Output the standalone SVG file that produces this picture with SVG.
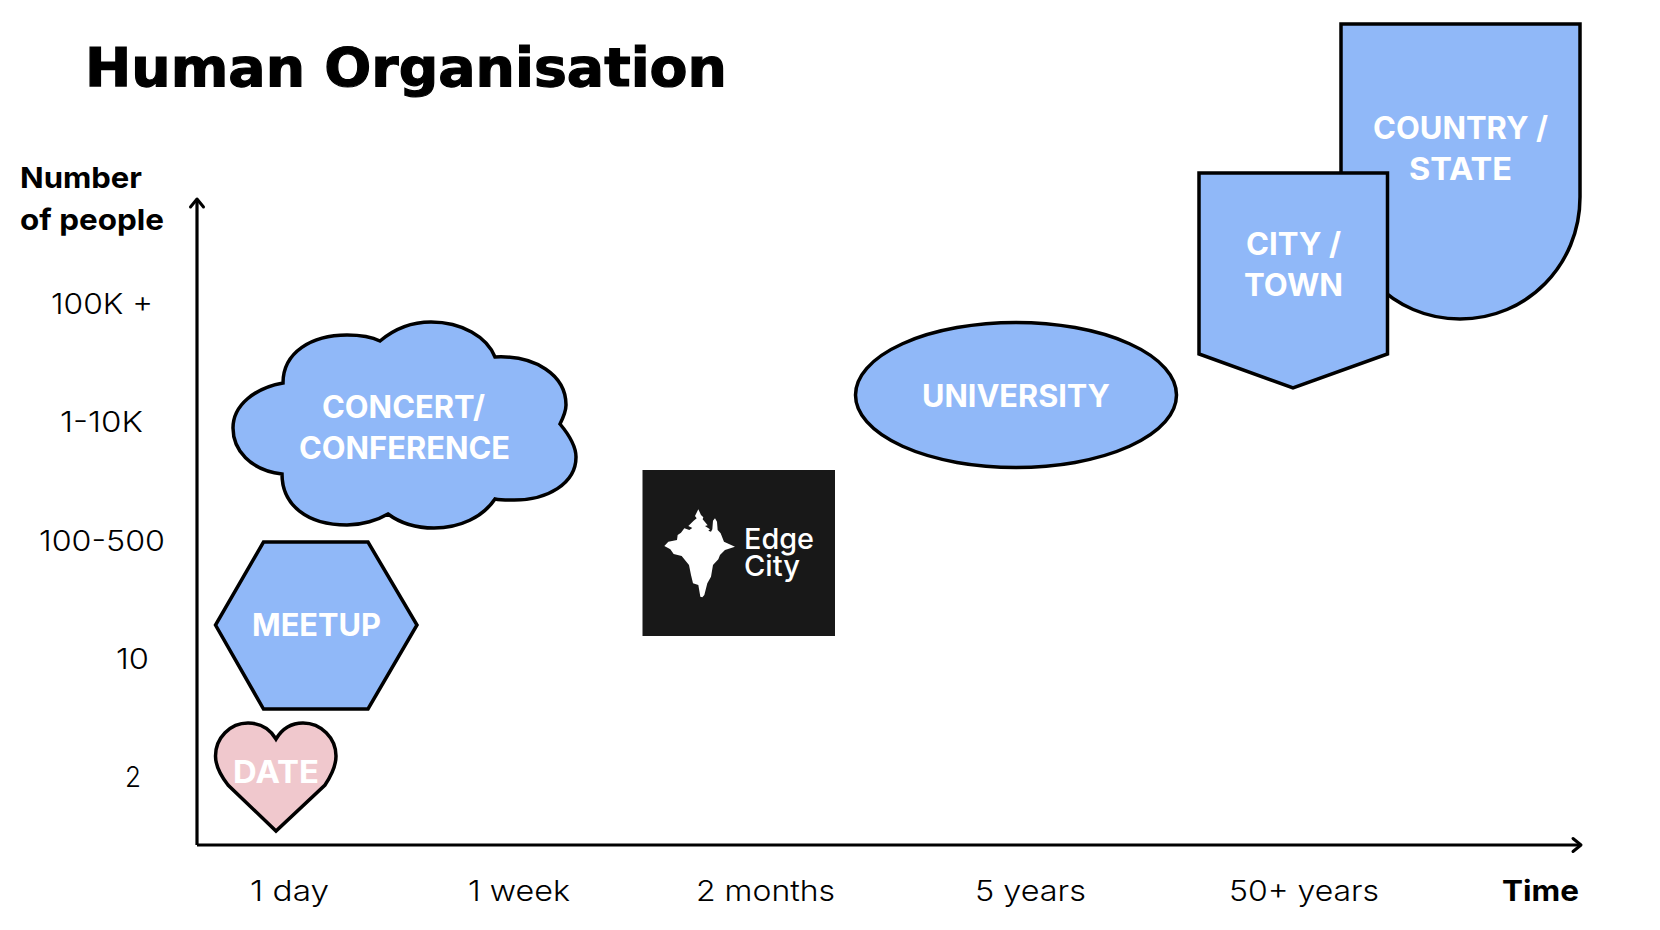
<svg xmlns="http://www.w3.org/2000/svg" width="1660" height="930" viewBox="0 0 1660 930">
<style>
text{font-family:Inter,"Liberation Sans",sans-serif;fill:#000}
.title{font-family:"DejaVu Sans",sans-serif;font-weight:700;font-size:54px;stroke:#000;stroke-width:1.2}
.tick{font-size:29px;font-weight:300}
.axis-title{font-size:29px;font-weight:700}
.label{font-size:31px;font-weight:700;fill:#fff}
.shape{fill:#90b8f8;stroke:#000;stroke-width:3.5;stroke-linejoin:miter}
.axis{fill:none;stroke:#000;stroke-width:3.2}
</style>
<defs>
<marker id="arrow" markerUnits="userSpaceOnUse" markerWidth="24" markerHeight="24" refX="14" refY="10" orient="auto">
<path d="M6 3.5L14 10L6 16.5" fill="none" stroke="#000" stroke-width="3" stroke-linecap="round" stroke-linejoin="round"/>
</marker>
</defs>
<rect width="1660" height="930" fill="#fff"/>
<text class="title" x="85" y="86" textLength="642" lengthAdjust="spacingAndGlyphs">Human Organisation</text>
<g id="connectors">
<path class="axis" d="M197 845V199" marker-end="url(#arrow)"/>
<path class="axis" d="M197 845H1581" marker-end="url(#arrow)"/>
</g>
<g id="y-labels">
<text class="axis-title" x="20" y="188" textLength="122" lengthAdjust="spacingAndGlyphs">Number</text>
<text class="axis-title" x="20" y="230" textLength="144" lengthAdjust="spacingAndGlyphs">of people</text>
<text class="tick" x="51" y="314" textLength="102" lengthAdjust="spacingAndGlyphs">100K +</text>
<text class="tick" x="60" y="432" textLength="83" lengthAdjust="spacingAndGlyphs">1-10K</text>
<text class="tick" x="39" y="551" textLength="126" lengthAdjust="spacingAndGlyphs">100-500</text>
<text class="tick" x="116" y="669" textLength="33" lengthAdjust="spacingAndGlyphs">10</text>
<text class="tick" x="125" y="787" textLength="16" lengthAdjust="spacingAndGlyphs">2</text>
</g>
<g id="x-labels">
<text class="tick" x="250" y="901" textLength="79" lengthAdjust="spacingAndGlyphs">1 day</text>
<text class="tick" x="468" y="901" textLength="102" lengthAdjust="spacingAndGlyphs">1 week</text>
<text class="tick" x="696" y="901" textLength="139" lengthAdjust="spacingAndGlyphs">2 months</text>
<text class="tick" x="975" y="901" textLength="111" lengthAdjust="spacingAndGlyphs">5 years</text>
<text class="tick" x="1229" y="901" textLength="150" lengthAdjust="spacingAndGlyphs">50+ years</text>
<text class="axis-title" x="1502" y="901" textLength="77" lengthAdjust="spacingAndGlyphs">Time</text>
</g>
<g id="node-country">
<path class="shape" d="M1341 24H1580V197C1580 265 1527 319 1460 319C1393 319 1341 265 1341 197Z"/>
<text class="label" x="1373" y="139" textLength="175" lengthAdjust="spacingAndGlyphs">COUNTRY /</text>
<text class="label" x="1409" y="180" textLength="103" lengthAdjust="spacingAndGlyphs">STATE</text>
</g>
<g id="node-city">
<path class="shape" d="M1199 173H1387.500V354L1293 388L1199 354Z"/>
<text class="label" x="1246" y="255" textLength="95" lengthAdjust="spacingAndGlyphs">CITY /</text>
<text class="label" x="1244" y="296" textLength="99" lengthAdjust="spacingAndGlyphs">TOWN</text>
</g>
<g id="node-university">
<ellipse class="shape" cx="1016" cy="395" rx="160.500" ry="72.500"/>
<text class="label" x="922" y="407" textLength="188" lengthAdjust="spacingAndGlyphs">UNIVERSITY</text>
</g>
<g id="node-edge-city">
<rect x="642.500" y="470" width="192.500" height="166" fill="#181818"/>
<polygon transform="translate(655 500) scale(.3333)" fill="#fff" points="130,28 138,45 145,52 143,58 158,76 150,78 165,88 160,92 168,95 172,88 174,62 180,55 186,65 188,90 197,100 207,125 240,140 210,150 195,165 190,178 174,195 168,230 157,250 148,285 142,292 136,290 130,255 114,250 108,225 102,195 80,168 56,162 46,148 28,138 40,125 66,120 68,105 78,98 88,85 103,90 112,84 100,78 116,62 125,55 120,48"/>
<text x="744" y="549" font-size="29" font-weight="500" style="fill:#fff" textLength="70" lengthAdjust="spacingAndGlyphs">Edge</text>
<text x="744" y="576" font-size="29" font-weight="500" style="fill:#fff" textLength="56" lengthAdjust="spacingAndGlyphs">City</text>
</g>
<g id="node-concert">
<path class="shape" d="M283 383C283 352 312 335 347 335C360 335 372 337 380 341C393 330 410 322 431 322C462 322 487 337 495 357C535 355 566 375 566 405C566 411 563 418 560 424C570 436 576 447 576 457C576 483 548 501 511 500C505 500 500 500 495 499C483 517 460 528 434 528C415 528 400 523 388 514C378 520 362 525 347 525C307 525 282 505 282 474C250 470 233 450 233 428C233 405 255 388 283 383Z"/>
<text class="label" x="322" y="418" textLength="163" lengthAdjust="spacingAndGlyphs">CONCERT/</text>
<text class="label" x="299" y="459" textLength="211" lengthAdjust="spacingAndGlyphs">CONFERENCE</text>
</g>
<g id="node-meetup">
<path class="shape" d="M263.500 542H368L417 625L368 709H263.500L215.500 625Z"/>
<text class="label" x="252" y="636" textLength="129" lengthAdjust="spacingAndGlyphs">MEETUP</text>
</g>
<g id="node-date">
<path class="shape" style="fill:#f0c8cd" d="M276 739C270 729 260 723 248 723C230 723 215.500 738 215.500 756C215.500 767 221 776 228 785L276 831L325 785C331 776 336 767 336 756C336 738 321 723 303 723C291 723 282 729 276 739Z"/>
<text class="label" x="233" y="783" textLength="86" lengthAdjust="spacingAndGlyphs">DATE</text>
</g>
</svg>
